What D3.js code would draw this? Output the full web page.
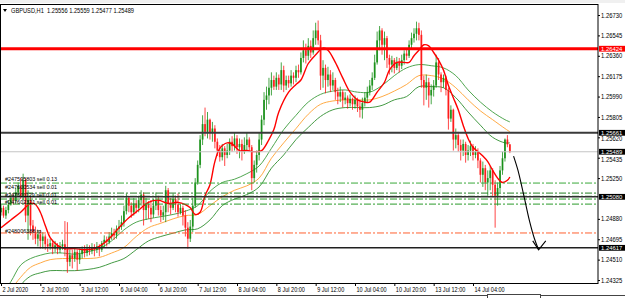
<!DOCTYPE html>
<html><head><meta charset="utf-8">
<script src="https://cdn.jsdelivr.net/npm/d3@7"></script>
<style>
html,body{margin:0;padding:0;background:#fff;overflow:hidden;}
svg{display:block;font-family:"Liberation Sans",Arial,sans-serif;}
</style></head><body>
<svg id="c" width="625" height="298"></svg>
<script>
// ---------- DATA ----------
const opens=[1.2494,1.2498,1.2491,1.2496,1.2501,1.2507,1.2505,1.2512,1.2518,1.2508,
1.2523,1.2491,1.2505,1.2482,1.2476,1.2470,1.2474,1.2468,1.2472,1.2465,
1.2463,1.2466,1.2461,1.2464,1.2460,1.2463,1.2465,1.2460,1.2449,1.2455,
1.2452,1.2458,1.2451,1.2456,1.2460,1.2457,1.2461,1.2459,1.2462,1.2460,
1.2463,1.2460,1.2466,1.2469,1.2467,1.2472,1.2475,1.2473,1.2479,1.2481,
1.2485,1.2495,1.2507,1.2500,1.2494,1.2502,1.2498,1.2505,1.2510,1.2496,
1.2501,1.2498,1.2492,1.2500,1.2505,1.2496,1.2491,1.2494,1.2514,1.2502,
1.2498,1.2506,1.2501,1.2494,1.2498,1.2491,1.2480,1.2470,1.2481,1.2500,
1.2521,1.2537,1.2560,1.2574,1.2567,1.2578,1.2566,1.2570,1.2558,1.2550,
1.2544,1.2552,1.2546,1.2550,1.2558,1.2554,1.2561,1.2553,1.2556,1.2549,
1.2555,1.2560,1.2553,1.2525,1.2537,1.2546,1.2560,1.2578,1.2596,1.2600,
1.2607,1.2614,1.2608,1.2616,1.2610,1.2623,1.2609,1.2614,1.2611,1.2618,
1.2616,1.2623,1.2621,1.2634,1.2641,1.2636,1.2645,1.2639,1.2652,1.2659,
1.2650,1.2618,1.2625,1.2614,1.2619,1.2609,1.2614,1.2603,1.2599,1.2603,
1.2596,1.2598,1.2593,1.2597,1.2592,1.2596,1.2590,1.2587,1.2593,1.2598,
1.2603,1.2609,1.2616,1.2630,1.2650,1.2659,1.2646,1.2652,1.2634,1.2628,
1.2632,1.2625,1.2630,1.2627,1.2632,1.2638,1.2636,1.2646,1.2652,1.2656,
1.2661,1.2655,1.2614,1.2607,1.2612,1.2600,1.2605,1.2609,1.2630,1.2619,
1.2612,1.2616,1.2605,1.2579,1.2587,1.2560,1.2564,1.2555,1.2550,1.2556,
1.2546,1.2550,1.2554,1.2546,1.2549,1.2541,1.2528,1.2534,1.2521,1.2525,
1.2532,1.2519,1.2509,1.2516,1.2532,1.2543,1.2560,1.25556];
const highs=[1.2501,1.2500,1.2499,1.2505,1.2510,1.2511,1.2516,1.2521,1.2525,1.2529,
1.2525,1.2514,1.2509,1.2487,1.2481,1.2478,1.2478,1.2476,1.2474,1.2470,
1.2470,1.2469,1.2468,1.2466,1.2467,1.2469,1.2486,1.2485,1.2460,1.2460,
1.2461,1.2460,1.2461,1.2463,1.2464,1.2465,1.2464,1.2466,1.2465,1.2467,
1.2465,1.2468,1.2473,1.2472,1.2476,1.2480,1.2479,1.2482,1.2487,1.2491,
1.2500,1.2511,1.2509,1.2503,1.2507,1.2505,1.2509,1.2514,1.2512,1.2507,
1.2504,1.2505,1.2506,1.2512,1.2509,1.2500,1.2500,1.2518,1.2516,1.2507,
1.2511,1.2509,1.2511,1.2502,1.2500,1.2496,1.2485,1.2487,1.2507,1.2525,
1.2541,1.2564,1.2582,1.2589,1.2585,1.2579,1.2576,1.2573,1.2561,1.2555,
1.2556,1.2554,1.2556,1.2561,1.2563,1.2566,1.2564,1.2561,1.2560,1.2562,
1.2566,1.2562,1.2555,1.2541,1.2550,1.2566,1.2582,1.2603,1.2608,1.2616,
1.2621,1.2618,1.2621,1.2619,1.2630,1.2627,1.2618,1.2618,1.2623,1.2621,
1.2627,1.2628,1.2639,1.2650,1.2647,1.2652,1.2650,1.2659,1.2666,1.2668,
1.2655,1.2632,1.2628,1.2626,1.2623,1.2621,1.2616,1.2607,1.2608,1.2605,
1.2603,1.2600,1.2601,1.2598,1.2600,1.2598,1.2596,1.2598,1.2603,1.2608,
1.2614,1.2621,1.2637,1.2658,1.2663,1.2661,1.2658,1.2654,1.2637,1.2636,
1.2634,1.2635,1.2634,1.2637,1.2641,1.2643,1.2650,1.2657,1.2661,1.2667,
1.2666,1.2659,1.2618,1.2619,1.2616,1.2610,1.2614,1.2637,1.2634,1.2621,
1.2619,1.2618,1.2607,1.2591,1.2588,1.2570,1.2567,1.2560,1.2560,1.2558,
1.2555,1.2559,1.2556,1.2554,1.2552,1.2543,1.2540,1.2537,1.2532,1.2536,
1.2534,1.2523,1.2521,1.2536,1.2549,1.2561,1.2564,1.25559];
const lows=[1.2491,1.2489,1.2488,1.2493,1.2500,1.2501,1.2502,1.2509,1.2506,1.2505,
1.2485,1.2469,1.2473,1.2469,1.2465,1.2463,1.2461,1.2461,1.2460,1.2458,
1.2460,1.2456,1.2458,1.2456,1.2457,1.2460,1.2454,1.2439,1.2445,1.2443,
1.2449,1.2441,1.2447,1.2452,1.2453,1.2454,1.2455,1.2456,1.2454,1.2457,
1.2454,1.2458,1.2462,1.2463,1.2465,1.2469,1.2469,1.2470,1.2476,1.2478,
1.2481,1.2492,1.2494,1.2489,1.2491,1.2493,1.2494,1.2500,1.2482,1.2487,
1.2488,1.2485,1.2489,1.2496,1.2491,1.2485,1.2487,1.2485,1.2494,1.2492,
1.2496,1.2494,1.2490,1.2492,1.2482,1.2472,1.2461,1.2467,1.2476,1.2498,
1.2519,1.2534,1.2555,1.2563,1.2561,1.2560,1.2558,1.2552,1.2545,1.2540,
1.2541,1.2536,1.2543,1.2546,1.2549,1.2550,1.2547,1.2543,1.2541,1.2547,
1.2550,1.2549,1.2514,1.2521,1.2530,1.2541,1.2555,1.2573,1.2587,1.2592,
1.2600,1.2605,1.2605,1.2605,1.2605,1.2603,1.2605,1.2607,1.2608,1.2610,
1.2612,1.2616,1.2619,1.2630,1.2629,1.2632,1.2634,1.2637,1.2646,1.2646,
1.2605,1.2607,1.2602,1.2608,1.2603,1.2605,1.2596,1.2592,1.2594,1.2589,
1.2592,1.2588,1.2590,1.2587,1.2588,1.2585,1.2580,1.2579,1.2590,1.2594,
1.2600,1.2605,1.2614,1.2628,1.2641,1.2637,1.2632,1.2625,1.2619,1.2621,
1.2620,1.2623,1.2621,1.2624,1.2628,1.2632,1.2634,1.2643,1.2648,1.2650,
1.2650,1.2607,1.2591,1.2596,1.2589,1.2592,1.2599,1.2607,1.2614,1.2603,
1.2607,1.2600,1.2569,1.2576,1.2550,1.2552,1.2549,1.2541,1.2545,1.2539,
1.2541,1.2545,1.2541,1.2543,1.2534,1.2521,1.2517,1.2514,1.2509,1.2514,
1.2508,1.2480,1.2500,1.2512,1.2528,1.2540,1.2553,1.25477];
const closes=[1.2498,1.2491,1.2496,1.2501,1.2507,1.2505,1.2512,1.2518,1.2508,1.2523,
1.2491,1.2505,1.2482,1.2476,1.2470,1.2474,1.2468,1.2472,1.2465,1.2463,
1.2466,1.2461,1.2464,1.2460,1.2463,1.2465,1.2460,1.2449,1.2455,1.2452,
1.2458,1.2451,1.2456,1.2460,1.2457,1.2461,1.2459,1.2462,1.2460,1.2463,
1.2460,1.2466,1.2469,1.2467,1.2472,1.2475,1.2473,1.2479,1.2481,1.2485,
1.2495,1.2507,1.2500,1.2494,1.2502,1.2498,1.2505,1.2510,1.2496,1.2501,
1.2498,1.2492,1.2500,1.2505,1.2496,1.2491,1.2494,1.2514,1.2502,1.2498,
1.2506,1.2501,1.2494,1.2498,1.2491,1.2480,1.2470,1.2481,1.2500,1.2521,
1.2537,1.2560,1.2574,1.2567,1.2578,1.2566,1.2570,1.2558,1.2550,1.2544,
1.2552,1.2546,1.2550,1.2558,1.2554,1.2561,1.2553,1.2556,1.2549,1.2555,
1.2560,1.2553,1.2525,1.2537,1.2546,1.2560,1.2578,1.2596,1.2600,1.2607,
1.2614,1.2608,1.2616,1.2610,1.2623,1.2609,1.2614,1.2611,1.2618,1.2616,
1.2623,1.2621,1.2634,1.2641,1.2636,1.2645,1.2639,1.2652,1.2659,1.2650,
1.2618,1.2625,1.2614,1.2619,1.2609,1.2614,1.2603,1.2599,1.2603,1.2596,
1.2598,1.2593,1.2597,1.2592,1.2596,1.2590,1.2587,1.2593,1.2598,1.2603,
1.2609,1.2616,1.2630,1.2650,1.2659,1.2646,1.2652,1.2634,1.2628,1.2632,
1.2625,1.2630,1.2627,1.2632,1.2638,1.2636,1.2646,1.2652,1.2656,1.2661,
1.2655,1.2614,1.2607,1.2612,1.2600,1.2605,1.2609,1.2630,1.2619,1.2612,
1.2616,1.2605,1.2579,1.2587,1.2560,1.2564,1.2555,1.2550,1.2556,1.2546,
1.2550,1.2554,1.2546,1.2549,1.2541,1.2528,1.2534,1.2521,1.2525,1.2532,
1.2519,1.2509,1.2516,1.2532,1.2543,1.2560,1.25556,1.25489];

// fast MA (red) sampled at bar indices
const fastIdx=[0,4,8,12,14,16,18,20,23,26,30,34,38,40,44,48,52,56,60,64,68,72,75,77,79,81,83,85,87,89,92,94,97,100,103,106,109,111,113,117,120,122,125,128,131,133,136,139,142,145,148,150,153,156,158,161,164,166,168,170,172,174,176,178,180,182,184,186,188,190,192,194,196,198,200,202,204,206,207];
const fastMA=[1.2480,1.2487,1.2494,1.2502,1.2501,1.2494,1.2482,1.2471,1.2464,1.2461,1.2461,1.2460,1.2461,1.2463,1.2470,1.2480,1.2489,1.2496,1.2503,1.2505,1.2502,1.2503,1.2501,1.2498,1.2492,1.2494,1.2509,1.2519,1.2540,1.2552,1.2557,1.2556,1.2550,1.2550,1.2549,1.2550,1.2560,1.2569,1.2585,1.2603,1.2610,1.2614,1.2629,1.2637,1.2643,1.2641,1.2630,1.2616,1.2603,1.2596,1.2594,1.2594,1.2603,1.2612,1.2623,1.2630,1.2630,1.2630,1.2636,1.2641,1.2646,1.2645,1.2639,1.2632,1.2623,1.2609,1.2598,1.2587,1.2573,1.2561,1.2553,1.2549,1.2545,1.2540,1.2532,1.2525,1.2521,1.2523,1.2526];

// slow envelope (green upper, orange middle, green lower)
const bandIdx=[0,4,8,12,16,20,25,30,35,40,45,50,55,60,65,70,75,80,85,90,95,100,105,110,115,120,125,130,135,140,145,150,155,160,165,170,175,180,185,190,195,200,205,207];
const bandUpper=[1.2419,1.2431,1.2446,1.2452,1.2455,1.2457,1.2457,1.2456,1.2458,1.2461,1.2468,1.2478,1.2485,1.2488,1.2490,1.2492,1.2495,1.2500,1.2513,1.2521,1.2524,1.2529,1.2536,1.2552,1.2569,1.2582,1.2594,1.2601,1.2604,1.2605,1.2603,1.2603,1.2609,1.2618,1.2625,1.2628,1.2627,1.2625,1.2618,1.2605,1.2594,1.2585,1.2578,1.2576];
const bandMid=[1.2405,1.2423,1.2435,1.2444,1.2448,1.2451,1.2452,1.2452,1.2452,1.2453,1.2457,1.2462,1.2472,1.2480,1.2484,1.2488,1.2491,1.2492,1.2500,1.2508,1.2514,1.2518,1.2525,1.2543,1.2557,1.2570,1.2583,1.2592,1.2595,1.2596,1.2596,1.2596,1.2599,1.2604,1.2610,1.2618,1.2618,1.2615,1.2607,1.2596,1.2586,1.2578,1.2570,1.2567];
const bandLower=[1.2396,1.2414,1.2428,1.2436,1.2439,1.2441,1.2441,1.2441,1.2442,1.2444,1.2448,1.2452,1.2460,1.2468,1.2472,1.2475,1.2478,1.2479,1.2487,1.2500,1.2506,1.2510,1.2517,1.2534,1.2546,1.2560,1.2571,1.2581,1.2587,1.2589,1.2589,1.2589,1.2591,1.2596,1.2599,1.2608,1.2608,1.2607,1.2598,1.2585,1.2573,1.2562,1.2557,1.2557];

// axes
const timeIdx=[0,16,32,48,64,80,96,112,128,144,160,176,192];
const timeLabels=["2 Jul 2020","2 Jul 20:00","3 Jul 12:00","6 Jul 04:00","6 Jul 20:00","7 Jul 12:00","8 Jul 04:00","8 Jul 20:00","9 Jul 12:00","10 Jul 04:00","10 Jul 20:00","13 Jul 12:00","14 Jul 04:00"];
const priceTicks=[1.26730,1.26545,1.26360,1.26175,1.25990,1.25805,1.25620,1.25435,1.25250,1.24880,1.24695,1.24510,1.24325];

// horizontal levels
const levelPrices=[1.26424,1.25661,1.25489,1.25080,1.24617];
const levelColors=["#ff0000","#3a3a3a","#c4c4c4","#303030","#202020"];
const levelWidths=[3,2,1,1.5,1.5];
const levelBoxColors=["#ff0000","#000000","#000000","#000000","#000000"];

// order lines
const orderPrices=[1.25205,1.25114,1.25085,1.25060,1.25014,1.24752];
const orderColors=["#3aa83a","#1f7f1f","#1f7f1f","#2a9a2a","#2a9a2a","#ff6030"];
const orderTexts=["#247595803 sell 0.13","#247600534 sell 0.01","#247601129 sell 0.01","#247602321 sell 0.01","","#248006388 tp"];
const orderTextOffset=[-2.1,-3.8,0.4,4.8,0,-0.4];

const titleText="GBPUSD,H1  1.25556 1.25559 1.25477 1.25489";

// hand-drawn arrow (bar index, price)
const arrowIdx=[208.5,210.3,212.6,215.0,217.0,218.7];
const arrowPrice=[1.2545,1.2532,1.2510,1.2486,1.2470,1.2460];
const arrowHeadIdx=[216.3,218.7,221.6];
const arrowHeadPrice=[1.2468,1.2460,1.2468];

// ---------- DRAW ----------
const svg=d3.select("#c");
const L=0,R=598,T=4,B=283;
const x=d3.scaleLinear().domain([0,192]).range([1,473]);
const y=d3.scaleLinear().domain([1.24298,1.26830]).range([B,T]);
function squeeze(sel,k){sel.each(function(){const w=this.getComputedTextLength();this.setAttribute("textLength",w*k);this.setAttribute("lengthAdjust","spacingAndGlyphs");});}

svg.append("rect").attr("width",625).attr("height",298).attr("fill","#fff");
svg.append("rect").attr("x",0).attr("y",0).attr("width",625).attr("height",3).attr("fill","#f0f0f0");
svg.append("defs").append("clipPath").attr("id","clp").append("rect")
  .attr("x",L).attr("y",T).attr("width",R-L).attr("height",B-T);
const g=svg.append("g").attr("clip-path","url(#clp)");

// bands
const bandLine=arr=>d3.line().x((d,i)=>x(bandIdx[i])).y(d=>y(d)).curve(d3.curveCatmullRom)(arr);
g.append("path").attr("d",bandLine(bandUpper)).attr("fill","none").attr("stroke","#3c9c3c").attr("stroke-width",0.9);
g.append("path").attr("d",bandLine(bandMid)).attr("fill","none").attr("stroke","#ffa030").attr("stroke-width",0.9);
g.append("path").attr("d",bandLine(bandLower)).attr("fill","none").attr("stroke","#2f8f2f").attr("stroke-width",0.9);

// candles
const bars=g.append("g");
closes.forEach((c,i)=>{
  const o=opens[i],h=highs[i],l=lows[i];
  const up=c>=o;
  const col=up?"#118c11":"#ff1010";
  const cx=x(i);
  bars.append("line").attr("x1",cx).attr("x2",cx).attr("y1",y(h)).attr("y2",y(l))
    .attr("stroke",col).attr("stroke-width",0.9).attr("opacity",0.85);
  const yt=y(Math.max(o,c)),yb=y(Math.min(o,c));
  bars.append("rect").attr("x",cx-0.9).attr("width",1.8).attr("y",yt).attr("height",Math.max(0.8,yb-yt))
    .attr("fill",col).attr("opacity",0.85);
});

// fast MA
g.append("path").attr("d",d3.line().x((d,i)=>x(fastIdx[i])).y(d=>y(d)).curve(d3.curveCatmullRom)(fastMA))
  .attr("fill","none").attr("stroke","#ff0000").attr("stroke-width",1.4);

// order lines
orderPrices.forEach((p,i)=>{
  g.append("line").attr("x1",L).attr("x2",R).attr("y1",y(p)).attr("y2",y(p))
   .attr("stroke",orderColors[i]).attr("stroke-width",1).attr("stroke-dasharray","7,2,2,2");
});
// levels
levelPrices.forEach((p,i)=>{
  g.append("line").attr("x1",L).attr("x2",R).attr("y1",y(p)).attr("y2",y(p))
   .attr("stroke",levelColors[i]).attr("stroke-width",levelWidths[i]);
});
// order texts
orderPrices.forEach((p,i)=>{
  if(!orderTexts[i])return;
  const t=g.append("text").attr("x",5).attr("y",y(p)+orderTextOffset[i]).text(orderTexts[i])
   .attr("font-size",6.2).attr("fill","#000");
  squeeze(t,0.88);
});

// arrow
const ap=arrowIdx.map((d,i)=>[x(d),y(arrowPrice[i])]);
svg.append("path").attr("d",d3.line().curve(d3.curveCatmullRom)(ap)).attr("fill","none").attr("stroke","#000").attr("stroke-width",1.1);
svg.append("path").attr("d",d3.line()(arrowHeadIdx.map((d,i)=>[x(d),y(arrowHeadPrice[i])]))).attr("fill","none").attr("stroke","#000").attr("stroke-width",1.1);

// frame
svg.append("rect").attr("x",L+0.5).attr("y",T+0.5).attr("width",R-L-0.5).attr("height",B-T).attr("fill","none").attr("stroke","#000").attr("stroke-width",1);

// price axis
const ya=svg.append("g").attr("transform",`translate(${R},0)`)
  .call(d3.axisRight(y).tickValues(priceTicks).tickSize(2).tickPadding(1).tickFormat(d3.format(".5f")));
ya.select(".domain").remove();
ya.selectAll("text").attr("font-size",6.4).attr("font-family","Liberation Sans, Arial, sans-serif").attr("fill","#000")
  .attr("dy",d=>{const near=levelPrices.find(p=>Math.abs(y(p)-y(d))<6);return near===undefined?"0.32em":(y(d)>y(near)?"0.52em":"0.12em");});
ya.selectAll("line").attr("stroke","#000");
squeeze(ya.selectAll("text"),0.92);

// level boxes
levelPrices.forEach((p,i)=>{
  svg.append("rect").attr("x",R+1).attr("y",y(p)-2.9).attr("width",26).attr("height",5.8).attr("fill",levelBoxColors[i]);
  const t=svg.append("text").attr("x",R+3).attr("y",y(p)+2.2).text(d3.format(".5f")(p))
    .attr("font-size",6.2).attr("fill","#fff");
  squeeze(t,0.95);
});

// time axis
const xa=svg.append("g").attr("transform",`translate(0,${B})`)
  .call(d3.axisBottom(x).tickValues(timeIdx).tickSize(3).tickPadding(1).tickFormat((d,i)=>timeLabels[i]));
xa.select(".domain").remove();
xa.selectAll("text").attr("font-size",6.6).attr("text-anchor","start").attr("dx",1).attr("fill","#000")
  .attr("font-family","Liberation Sans, Arial, sans-serif");
xa.selectAll("line").attr("stroke","#000");
squeeze(xa.selectAll("text"),0.84);

// bottom tab strip
svg.append("line").attr("x1",0).attr("x2",625).attr("y1",295.5).attr("y2",295.5).attr("stroke","#444");
svg.append("rect").attr("x",487.5).attr("y",294.5).attr("width",53).attr("height",5).attr("fill","#fff").attr("stroke","#444");

// title
svg.append("path").attr("d",d3.line()([[3,9],[7,9],[5,12]])+"Z").attr("fill","#000");
svg.append("text").attr("x",11).attr("y",13).text(titleText).attr("font-size",6.8).attr("fill","#000")
  .attr("textLength",123).attr("lengthAdjust","spacingAndGlyphs").style("white-space","pre");
</script>
</body></html>
